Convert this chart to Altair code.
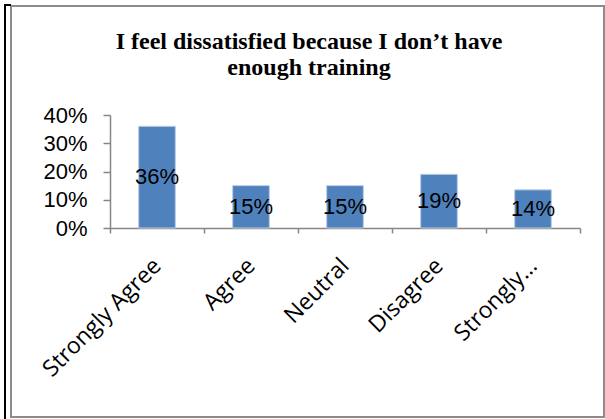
import altair as alt
import pandas as pd

categories = ["Strongly Agree", "Agree", "Neutral", "Disagree", "Strongly…"]
values = [0.36, 0.15, 0.15, 0.19, 0.135]
labels = ["36%", "15%", "15%", "19%", "14%"]
title_lines = ["I feel dissatisfied because I don’t have", "enough training"]

df = pd.DataFrame({"category": categories, "value": values, "label": labels})

W, H = 470, 113

x_axis = alt.Axis(
    labelAngle=-45, labelAlign="right", labelBaseline="middle",
    labelFont="Open Sans", labelFontSize=23, labelColor="black",
    labelPadding=29, tickBand="extent", tickSize=5,
    tickColor="#868686", domainColor="#868686", domainWidth=1.5, tickWidth=1.5,
    labelOverlap=False, labelLimit=300,
)
y_axis = alt.Axis(
    values=[0, 0.1, 0.2, 0.3, 0.4], format=".0%",
    labelFont="Liberation Sans", labelFontSize=22, labelColor="black",
    labelPadding=16, tickSize=7, tickColor="#868686", domainColor="#868686",
    domainWidth=1.5, tickWidth=1.5, grid=False, labelOverlap=False,
)
x_scale = alt.Scale(paddingInner=0, paddingOuter=0)
y_scale = alt.Scale(domain=[0, 0.4], nice=False)

bars = alt.Chart(df).mark_bar(
    width=alt.RelativeBandSize(0.39), color="#4F81BD", stroke="#BCCEE6", strokeWidth=1
).encode(
    x=alt.X("category:N", sort=categories, title=None, scale=x_scale, axis=x_axis),
    y=alt.Y("value:Q", title=None, scale=y_scale, axis=y_axis),
)

text = alt.Chart(df).transform_calculate(mid="datum.value / 2").mark_text(
    font="Liberation Sans", fontSize=22, color="black", baseline="middle", align="center"
).encode(
    x=alt.X("category:N", sort=categories, title=None, scale=x_scale, axis=x_axis),
    y=alt.Y("mid:Q", title=None, scale=y_scale, axis=y_axis),
    text="label:N",
)

title = alt.Chart(pd.DataFrame({"t": [0]})).mark_text(
    text=title_lines, font="Liberation Serif", fontSize=24, fontWeight="bold",
    color="black", align="center", baseline="alphabetic", lineHeight=26,
).encode(x=alt.value(199), y=alt.value(-66))

frame = alt.Chart(pd.DataFrame({"t": [0]})).mark_rect(
    fill=None, stroke="#8c8c8c", strokeWidth=2
).encode(
    x=alt.value(-99), x2=alt.value(494), y=alt.value(-109), y2=alt.value(302)
)

left_line = alt.Chart(pd.DataFrame({"t": [0]})).mark_rule(color="black", strokeWidth=2).encode(
    x=alt.value(-105), y=alt.value(-110), y2=alt.value(310)
)
top_tick = alt.Chart(pd.DataFrame({"t": [0]})).mark_rule(color="black", strokeWidth=2).encode(
    x=alt.value(-106), x2=alt.value(-99), y=alt.value(-110)
)

chart = alt.layer(frame, left_line, top_tick, title, bars, text).properties(
    width=W, height=H,
    autosize=alt.AutoSizeParams(type="none"),
    padding={"left": 110, "top": 115, "right": 25, "bottom": 191},
    background="white",
).configure_view(stroke=None)

chart.save("out.html", embed_options={"renderer": "svg", "actions": False})
